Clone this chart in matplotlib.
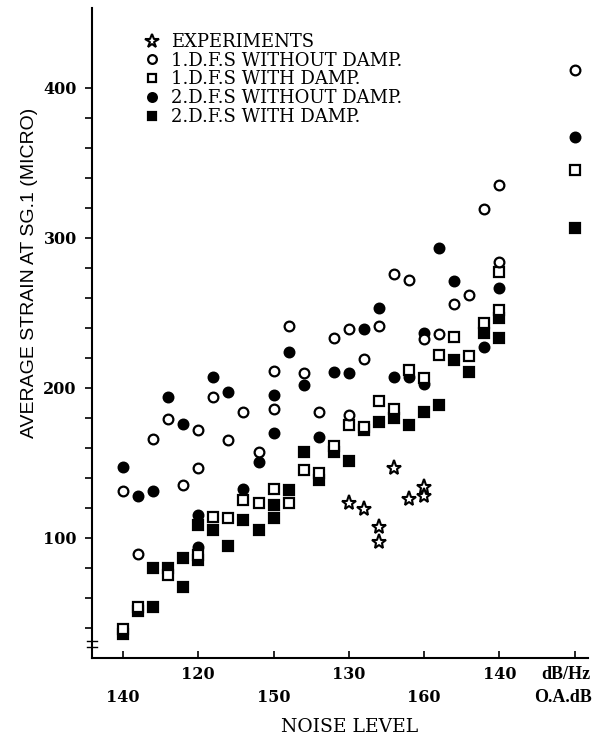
import matplotlib
matplotlib.use("Agg")
import matplotlib.pyplot as plt
import numpy as np

plt.rcParams['font.family'] = 'DejaVu Serif'

# noise level in dB/Hz (O.A. dB = dB/Hz + 25)
exp_x = [130, 131, 132, 132, 133, 134, 135, 135]
exp_y = [123, 119, 107, 97.5, 146.5, 126, 134, 128]

o1_x = [115, 116, 117, 118, 119, 120, 120, 121, 122, 123, 124, 125, 125, 126, 127, 128,
        129, 130, 130, 131, 132, 133, 134, 135, 136, 137, 138, 139, 140, 140, 145]
o1_y = [131, 89, 166, 179, 135.5, 172, 146.5, 194, 165, 184, 157.5, 211, 186, 241.5, 210, 184,
        233.5, 239, 182, 219, 241, 276, 272, 232.5, 236, 256, 262, 319, 335, 284, 412]

s1_x = [115, 116, 118, 120, 121, 122, 123, 124, 125, 126, 127, 128, 129, 130, 131, 132,
        133, 134, 135, 136, 137, 138, 139, 140, 140, 145]
s1_y = [39, 54, 75, 88.5, 114, 113, 125.5, 123, 132.5, 123, 145, 143, 161, 175, 174, 191.5,
        186, 212, 206.5, 222, 234, 221.5, 243, 277, 252, 345]

o2_x = [115, 116, 117, 118, 119, 120, 120, 121, 122, 123, 124, 125, 125, 126, 127, 128,
        129, 130, 131, 132, 133, 134, 135, 135, 136, 137, 139, 140, 145]
o2_y = [147, 128, 131, 194, 176, 115.5, 94, 207.5, 197, 132.5, 150.5, 195.5, 170, 224, 202, 167.5,
        210.5, 210, 239, 253, 207.5, 207.5, 236.5, 202.5, 293.5, 271.5, 227.5, 266.5, 367.5]

s2_x = [115, 116, 117, 117, 118, 119, 119, 120, 120, 121, 122, 123, 124, 125, 125, 126,
        127, 128, 129, 130, 131, 132, 133, 134, 135, 136, 137, 138, 139, 140, 140, 145]
s2_y = [36, 51.5, 80, 54, 80, 86.5, 67.5, 108.5, 85.5, 105.5, 94.5, 112, 105.5, 122, 113.5, 132,
        157, 138.5, 157, 151, 172, 177, 180, 175.5, 184, 188.5, 218.5, 210.5, 236.5, 246.5, 233, 306.5]

dbhz_labels = [120, 130, 140]
oa_labels = [140, 150, 160]
oa_offset = 25
x_ticks = [115, 120, 125, 130, 135, 140, 145]
y_ticks = list(range(40, 401, 20))

fig = plt.figure(figsize=(6.07, 7.46), dpi=100)
ax = fig.add_axes([92 / 607, 88 / 746, 496 / 607, 650 / 746])

ms = 7
mew = 1.6
h_s2, = ax.plot(s2_x, s2_y, ls='none', marker='s', ms=6.5, mfc='black', mec='black', mew=mew)
h_o2, = ax.plot(o2_x, o2_y, ls='none', marker='o', ms=ms, mfc='black', mec='black', mew=mew)
h_s1, = ax.plot(s1_x, s1_y, ls='none', marker='s', ms=6.5, mfc='white', mec='black', mew=mew)
h_o1, = ax.plot(o1_x, o1_y, ls='none', marker='o', ms=ms, mfc='white', mec='black', mew=mew)
h_ex, = ax.plot(exp_x, exp_y, ls='none', marker='*', ms=11, mfc='white', mec='black', mew=1.5)

ax.set_xlim(112.94, 145.88)
ax.set_ylim(20, 453.3)

for s in ['top', 'right']:
    ax.spines[s].set_visible(False)
for s in ['left', 'bottom']:
    ax.spines[s].set_linewidth(1.5)

ax.set_yticks(y_ticks)
ax.set_yticklabels([str(v) if v % 100 == 0 else '' for v in y_ticks],
                   fontweight='bold', fontsize=11.5)
ax.tick_params(axis='y', direction='out', length=5, width=1.2, pad=6)

ax.set_xticks(x_ticks)
ax.set_xticklabels([])
ax.tick_params(axis='x', direction='in', length=5, width=1.2)

tr = ax.get_xaxis_transform()
for v in dbhz_labels:
    ax.text(v, -0.026, str(v), transform=tr, ha='center', va='center',
            fontsize=11.5, fontweight='bold')
for v in oa_labels:
    ax.text(v - oa_offset, -0.0615, str(v), transform=tr, ha='center', va='center',
            fontsize=11.5, fontweight='bold')
ax.text(1.005, -0.026, 'dB/Hz', transform=ax.transAxes, ha='right', va='center',
        fontsize=13, fontweight='bold', family='Liberation Serif')
ax.text(1.008, -0.0615, 'O.A.dB', transform=ax.transAxes, ha='right', va='center',
        fontsize=13, fontweight='bold', family='Liberation Serif')

# axis break mark
for yb in [0.017, 0.026]:
    ax.plot([-0.01, 0.01], [yb, yb], color='black', lw=1, transform=ax.transAxes, clip_on=False)

ax.set_xlabel('NOISE LEVEL', fontsize=13.5, va='center')
ax.xaxis.set_label_coords(0.52, -0.106)
ax.set_ylabel('AVERAGE STRAIN AT SG.1 (MICRO)', fontsize=14, family='Liberation Sans', va='center')
ax.yaxis.set_label_coords(-0.127, 0.592)

ax.legend([h_ex, h_o1, h_s1, h_o2, h_s2],
          ['EXPERIMENTS', '1.D.F.S WITHOUT DAMP.', '1.D.F.S WITH DAMP.',
           '2.D.F.S WITHOUT DAMP.', '2.D.F.S WITH DAMP.'],
          loc='upper left', bbox_to_anchor=(0.103, 0.9615), frameon=False,
          fontsize=13, handlelength=1, handletextpad=0.55, labelspacing=0.04,
          borderpad=0, borderaxespad=0, markerscale=0.9)

fig.savefig('out.png', dpi=100)
